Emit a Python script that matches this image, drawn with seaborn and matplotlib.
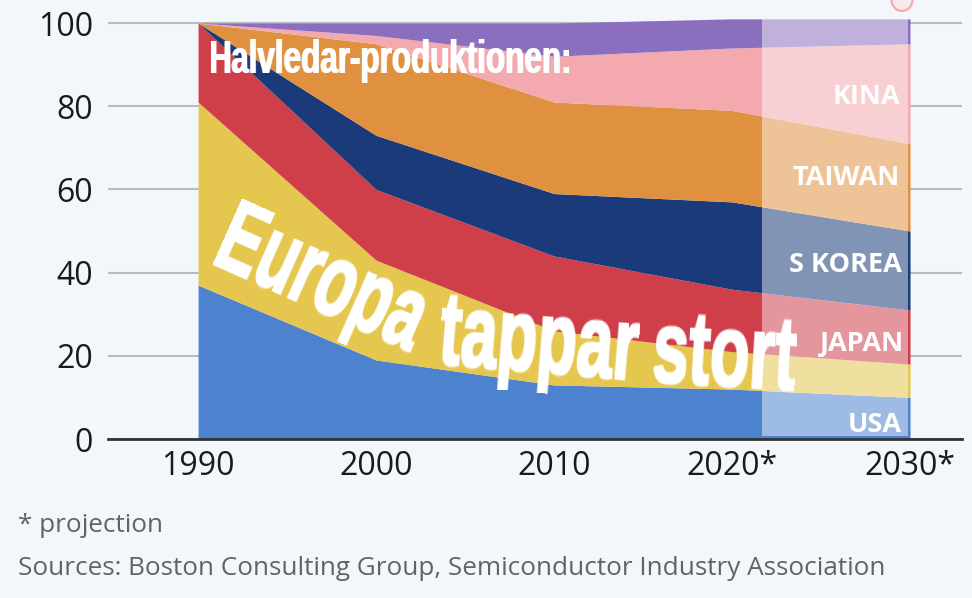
import numpy as np
import pandas as pd
import matplotlib.pyplot as plt
from matplotlib.patches import Ellipse, Rectangle
import seaborn as sns

years = [1990, 2000, 2010, 2020, 2030]
year_labels = ['1990', '2000', '2010', '2020*', '2030*']
y_ticks = [0, 20, 40, 60, 80, 100]

# andelar per region (procent)
usa = [37, 19, 13, 12, 10]
europa = [44, 24, 13, 9, 8]
japan = [19, 17, 18, 15, 13]
s_korea = [0, 13, 15, 21, 19]
taiwan = [0, 22, 22, 22, 21]
kina = [0, 2, 11, 15, 24]
ovriga = [0, 3, 8, 7, 6]

projection_start = 2021.7

colors = ['#4d82cf', '#e5c64e', '#cf3f4a', '#1a3a7a', '#e09140', '#f3a9ae', '#8b6fbf']
bg = '#f3f7fb'
W, H = 972, 598


def word_ranges(alpha, min_gap=12):
    """Hittar ordens kolumner i en renderad text (tomma kolumner = mellanrum)."""
    filled = np.where(alpha.sum(axis=0) > 0)[0]
    breaks = np.where(np.diff(filled) > min_gap)[0]
    starts = [filled[0]] + [filled[b + 1] for b in breaks]
    stops = [filled[b] for b in breaks] + [filled[-1]]
    return list(zip(starts, stops))


def thicken(alpha, cols, rows):
    """Gor strecken lite fetare."""
    padded = np.pad(alpha, ((rows, rows), (cols, cols)))
    out = padded.copy()
    for c in range(-cols, cols + 1):
        for r in range(-rows, rows + 1):
            out = np.maximum(out, np.roll(np.roll(padded, c, axis=1), r, axis=0))
    return out[rows:rows + alpha.shape[0], cols:cols + alpha.shape[1]]


def warp_filter(cx, cy, descent, vscale, bold, targets):
    """agg_filter: flyttar varje ord till (x, y, vinkel, langd) sa att typsnittet blir smalt."""
    def apply(img, dpi):
        alpha = img[..., 3]
        h, w = alpha.shape
        ranges = word_ranges(alpha)
        alpha = thicken(alpha, *bold)
        base_row = h - descent
        m = 10
        X, Y = np.meshgrid(np.arange(m, W - m), np.arange(m, H - m))
        result = np.zeros(X.shape)
        for (c0, c1), (x, y, angle, length) in zip(ranges, targets):
            t = np.deg2rad(angle)
            dx, dy = X - x, Y - y
            u = (dx * np.cos(t) + dy * np.sin(t)) * (c1 - c0) / length
            v = (-dx * np.sin(t) + dy * np.cos(t)) / vscale
            col, row = c0 + u, base_row + v
            inside = (col >= c0 - bold[0]) & (col <= c1 + bold[0]) & (row >= 0) & (row <= h - 1)
            c = np.clip(col, 0, w - 2)
            r = np.clip(row, 0, h - 2)
            ci, ri = c.astype(int), r.astype(int)
            fc, fr = c - ci, r - ri
            val = (alpha[ri, ci] * (1 - fc) * (1 - fr) + alpha[ri, ci + 1] * fc * (1 - fr)
                   + alpha[ri + 1, ci] * (1 - fc) * fr + alpha[ri + 1, ci + 1] * fc * fr)
            result = np.where(inside, np.maximum(result, val), result)
        out = np.ones(X.shape + (4,))
        out[..., 3] = result
        ox = m - int(cx - w / 2)
        oy = int(cy + h / 2) - (H - m)
        return out, ox, oy
    return apply


def main():
    sns.set_theme(style='whitegrid')
    plt.rcParams['font.family'] = ['Open Sans', 'DejaVu Sans']

    df = pd.DataFrame({
        'year': years, 'USA': usa, 'Europa': europa, 'Japan': japan,
        'S Korea': s_korea, 'Taiwan': taiwan, 'Kina': kina, 'Ovriga': ovriga,
    }).set_index('year')

    fig = plt.figure(figsize=(W / 100, H / 100), dpi=100, facecolor=bg)
    ax = fig.add_axes([108 / W, 1 - 439 / H, (962 - 108) / W, 439 / H])
    ax.set_facecolor(bg)

    ax.stackplot(df.index, df.T.values, colors=colors, linewidth=0, zorder=2)

    ax.set_xlim(1984.94, 2032.92)
    ax.set_ylim(0, 439 / 4.16)
    ax.set_xticks(years)
    ax.set_xticklabels(year_labels)
    ax.set_yticks(y_ticks)
    ax.tick_params(axis='both', labelsize=23, colors='#1a1a1a', length=0)
    ax.tick_params(axis='x', pad=8)
    ax.tick_params(axis='y', pad=11)
    ax.xaxis.grid(False)
    ax.yaxis.grid(True, color='#b8bcc0', linewidth=1.5, zorder=1)
    ax.set_axisbelow(True)
    sns.despine(ax=ax, left=True, top=True, right=True)
    ax.spines['bottom'].set_color('#333333')
    ax.spines['bottom'].set_linewidth(2)

    # prognosdelen ar ljusare
    ax.add_patch(Rectangle((projection_start, 0.7), 2029.9 - projection_start, 100.3,
                           facecolor='white', edgecolor='none', alpha=0.46, zorder=3))

    for label, xr, yc in [('KINA', 900, 97), ('TAIWAN', 900, 178), ('S KOREA', 902, 265),
                          ('JAPAN', 904, 344), ('USA', 902, 425)]:
        fig.text(xr / W, 1 - yc / H, label, color='white', fontsize=19.5,
                 fontweight='bold', ha='right', va='center', zorder=6)

    title = fig.text(389 / W, 1 - 60 / H, 'Halvledar-produktionen:', color='white', fontsize=34,
                     fontweight='bold', family=['Liberation Sans', 'DejaVu Sans'],
                     ha='center', va='center')
    title.set_agg_filter(warp_filter(389, 60, 10, 1.0, (1, 0), [(212, 73, 0, 357)]))

    slogan = fig.text(470 / W, 1 - 300 / H, 'Europa tappar stort', color='white', fontsize=52,
                      fontweight='bold', family=['Liberation Sans', 'DejaVu Sans'],
                      ha='center', va='center')
    slogan.set_agg_filter(warp_filter(470, 300, 15, 1.44, (1, 1), [
        (211, 262, 24, 215),
        (436, 362, 4.7, 197),
        (651, 380, 3.3, 140),
    ]))

    fig.text(18 / W, 1 - 525.5 / H, '* projection', color='#5f6468', fontsize=18.8, va='center')
    fig.text(18 / W, 1 - 568.5 / H, 'Sources: Boston Consulting Group, Semiconductor Industry Association',
             color='#5f6468', fontsize=18.8, va='center')

    # logo-ringen som ar avskuren i overkanten
    fig.add_artist(Ellipse((902 / W, 1), 21 / W, 22 / H, transform=fig.transFigure,
                           facecolor='#f8eaeb', edgecolor='#f2a9a9', linewidth=1.5))

    fig.savefig('out.png', dpi=100, facecolor=bg)


if __name__ == "__main__":
    main()
